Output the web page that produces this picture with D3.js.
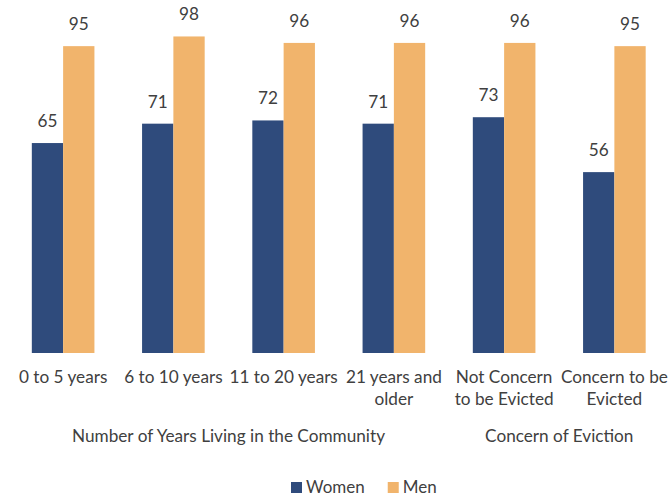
<!DOCTYPE html>
<html>
<head>
<meta charset="utf-8">
<script src="https://cdn.jsdelivr.net/npm/d3@7/dist/d3.min.js"></script>
<style>
  html, body { margin: 0; padding: 0; background: #fff; }
  svg { display: block; }
  text { font-family: Lato, "Open Sans", sans-serif; fill: #404040; }
</style>
</head>
<body>
<svg id="chart" width="670" height="496"></svg>
<script>
// Category labels (line breaks where the label wraps under its pair of bars)
const categories = [
  "0 to 5 years",
  "6 to 10 years",
  "11 to 20 years",
  "21 years and\nolder",
  "Not Concern\nto be Evicted",
  "Concern to be\nEvicted"
];
const seriesNames = ["Women", "Men"];
const women = [65, 71, 72, 71, 73, 56];
const men = [95, 98, 96, 96, 96, 95];
// Group titles and the category range (first, last index) each one spans
const groupNames = ["Number of Years Living in the Community", "Concern of Eviction"];
const groupSpans = [[0, 3], [4, 5]];

const colors = { Women: "#2f4b7c", Men: "#f1b46c" };
const seriesValues = { Women: women, Men: men };

const svg = d3.select("#chart");
const fontSize = 17.2;

const x0 = d3.scaleBand().domain(categories).range([8, 669.5]).padding(0);
const x1 = d3.scaleBand().domain(seriesNames).range([0, x0.bandwidth()])
  .paddingInner(0).paddingOuter(0.761);
const y = d3.scaleLinear().domain([0, 100]).range([353, 30]);

const rows = categories.map((c, i) => ({
  cat: c,
  vals: seriesNames.map(s => ({ series: s, value: seriesValues[s][i] }))
}));

const groups = svg.append("g").selectAll("g")
  .data(rows).join("g")
  .attr("transform", d => `translate(${x0(d.cat)},0)`);

groups.selectAll("rect")
  .data(d => d.vals).join("rect")
  .attr("x", d => x1(d.series))
  .attr("width", x1.bandwidth())
  .attr("y", d => y(d.value))
  .attr("height", d => y(0) - y(d.value))
  .attr("fill", d => colors[d.series]);

groups.selectAll("text.value")
  .data(d => d.vals).join("text")
  .attr("class", "value")
  .attr("x", d => x1(d.series) + x1.bandwidth() / 2)
  .attr("y", d => y(d.value) - 16)
  .attr("text-anchor", "middle")
  .style("font-size", fontSize + "px")
  .text(d => d.value);

// Category axis labels (no axis line or ticks drawn)
const axis = d3.axisBottom(x0).tickSize(0).tickPadding(0);
const axisG = svg.append("g").attr("transform", `translate(0,${y(0)})`).call(axis);
axisG.select(".domain").remove();
axisG.selectAll(".tick text").each(function (d) {
  const t = d3.select(this);
  t.text(null).attr("y", 0).attr("dy", null)
    .style("font-size", fontSize + "px")
    .style("font-family", "Lato, 'Open Sans', sans-serif")
    .attr("fill", "#404040");
  d.split("\n").forEach((line, i) => {
    t.append("tspan").attr("x", 0).attr("y", 30 + i * 22).text(line);
  });
});

// Group titles under the category labels
svg.append("g").selectAll("text")
  .data(groupNames).join("text")
  .attr("x", (d, i) => {
    const [a, b] = groupSpans[i];
    return (x0(categories[a]) + x0(categories[b]) + x0.bandwidth()) / 2;
  })
  .attr("y", 442)
  .attr("text-anchor", "middle")
  .style("font-size", fontSize + "px")
  .text(d => d);

// Legend
const legend = svg.append("g").attr("class", "legend");
const items = legend.selectAll("g").data(seriesNames).join("g");
items.append("rect").attr("width", 11).attr("height", 11).attr("y", -11)
  .attr("fill", d => colors[d]);
items.append("text").attr("x", 15).attr("y", 0)
  .style("font-size", "17px").text(d => d);
let off = 0;
items.each(function () {
  d3.select(this).attr("transform", `translate(${off},0)`);
  off += this.getBBox().width + 23;
});
legend.attr("transform", "translate(291,493)");
</script>
</body>
</html>
